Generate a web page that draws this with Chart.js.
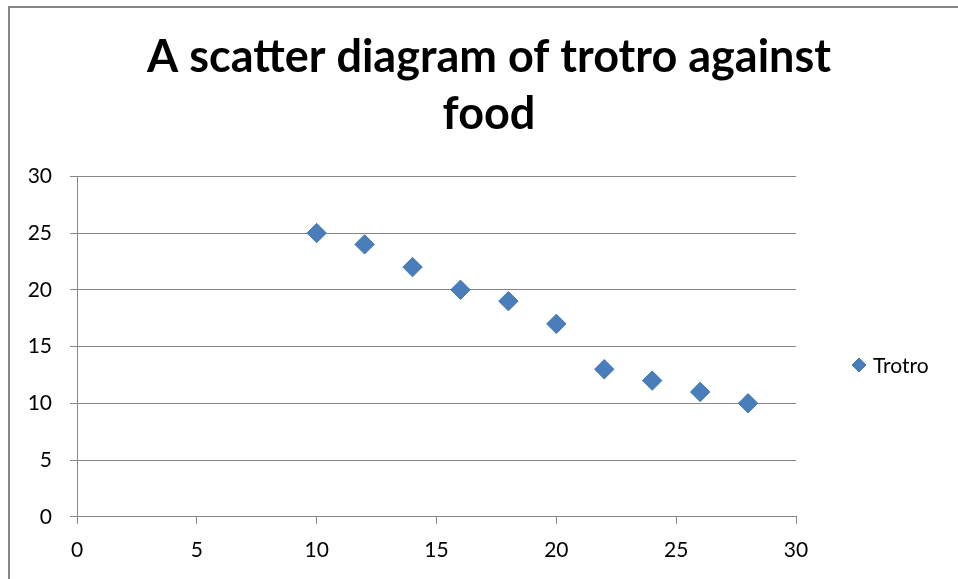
<!DOCTYPE html>
<html>
<head>
<meta charset="utf-8">
<script src="https://cdn.jsdelivr.net/npm/chart.js@4.4.1/dist/chart.umd.min.js"></script>
<style>
  html, body { margin: 0; padding: 0; background: #ffffff; }
  #wrap { width: 958px; height: 579px; position: relative; }
</style>
</head>
<body>
<div id="wrap"><canvas id="c" width="958" height="579"></canvas></div>
<script>
const titleLines = ["A scatter diagram of trotro against", "food"];
const seriesName = "Trotro";
const foodValues = [10, 12, 14, 16, 18, 20, 22, 24, 26, 28];
const trotroValues = [25, 24, 22, 20, 19, 17, 13, 12, 11, 10];
const xTicks = [0, 5, 10, 15, 20, 25, 30];
const yTicks = [0, 5, 10, 15, 20, 25, 30];

const points = foodValues.map((x, i) => ({ x: x, y: trotroValues[i] }));
const FONT = "Lato, Carlito, Calibri, 'Open Sans', sans-serif";
const GRID = '#868686';
const MARK = '#4a7ebb';

const frame = {
  id: 'frame',
  beforeDraw(chart) {
    const ctx = chart.ctx;
    ctx.save();
    ctx.fillStyle = '#ffffff';
    ctx.fillRect(0, 0, chart.width, chart.height);
    ctx.strokeStyle = GRID;
    ctx.lineWidth = 2;
    ctx.beginPath();
    ctx.moveTo(9, chart.height);
    ctx.lineTo(9, 7);
    ctx.lineTo(chart.width, 7);
    ctx.stroke();
    ctx.restore();
  }
};

// Legend drawn beside the plot, vertically centred on the whole chart like the original
const sideLegend = {
  id: 'sideLegend',
  afterDraw(chart) {
    const ctx = chart.ctx;
    const ds = chart.data.datasets[0];
    const ca = chart.chartArea;
    const cx = ca.right + 63;
    const cy = 365;
    const h = 7;
    ctx.save();
    ctx.fillStyle = ds.backgroundColor;
    ctx.strokeStyle = ds.borderColor;
    ctx.lineWidth = 1;
    ctx.beginPath();
    ctx.moveTo(cx, cy - h);
    ctx.lineTo(cx + h, cy);
    ctx.lineTo(cx, cy + h);
    ctx.lineTo(cx - h, cy);
    ctx.closePath();
    ctx.fill();
    ctx.stroke();
    ctx.fillStyle = '#000000';
    ctx.font = "21px " + FONT;
    ctx.textBaseline = 'middle';
    ctx.textAlign = 'left';
    ctx.fillText(ds.label, cx + 14, cy + 1);
    ctx.restore();
  }
};

new Chart(document.getElementById('c'), {
  type: 'scatter',
  data: {
    datasets: [{
      label: seriesName,
      data: points,
      xAxisID: 'x',
      yAxisID: 'y',
      pointStyle: 'rectRot',
      pointRadius: 9.7,
      pointHoverRadius: 9.7,
      backgroundColor: MARK,
      borderColor: '#4576b3',
      borderWidth: 1
    }]
  },
  options: {
    responsive: false,
    animation: false,
    layout: { padding: { left: 20, right: 0, top: 12, bottom: 2 } },
    plugins: {
      title: {
        display: true,
        text: titleLines,
        color: '#000000',
        font: { family: FONT, size: 45, weight: 'bold', lineHeight: 1.27 },
        padding: { top: 17, bottom: 33 }
      },
      legend: { display: false },
      tooltip: { enabled: false }
    },
    scales: {
      x: {
        type: 'linear',
        min: 0, max: 30,
        afterBuildTicks(scale) { scale.ticks = xTicks.map(v => ({ value: v })); },
        grid: { drawOnChartArea: false, drawTicks: true, tickLength: 7, color: GRID, lineWidth: 1 },
        border: { display: true, color: GRID, width: 1 },
        ticks: { color: '#000000', font: { family: FONT, size: 21 }, padding: 14, maxRotation: 0 }
      },
      y: {
        type: 'linear',
        position: 'left',
        min: 0, max: 30,
        afterBuildTicks(scale) { scale.ticks = yTicks.map(v => ({ value: v })); },
        afterFit(scale) { scale.width = 57; },
        grid: { drawOnChartArea: true, drawTicks: true, tickLength: 7, color: GRID, lineWidth: 1 },
        border: { display: true, color: GRID, width: 1 },
        ticks: { color: '#000000', font: { family: FONT, size: 21 }, padding: 18 }
      },
      legendSpace: {
        type: 'linear',
        position: 'right',
        display: true,
        afterFit(scale) { scale.width = 162; },
        grid: { display: false },
        border: { display: false },
        ticks: { display: false }
      }
    }
  },
  plugins: [frame, sideLegend]
});
</script>
</body>
</html>
